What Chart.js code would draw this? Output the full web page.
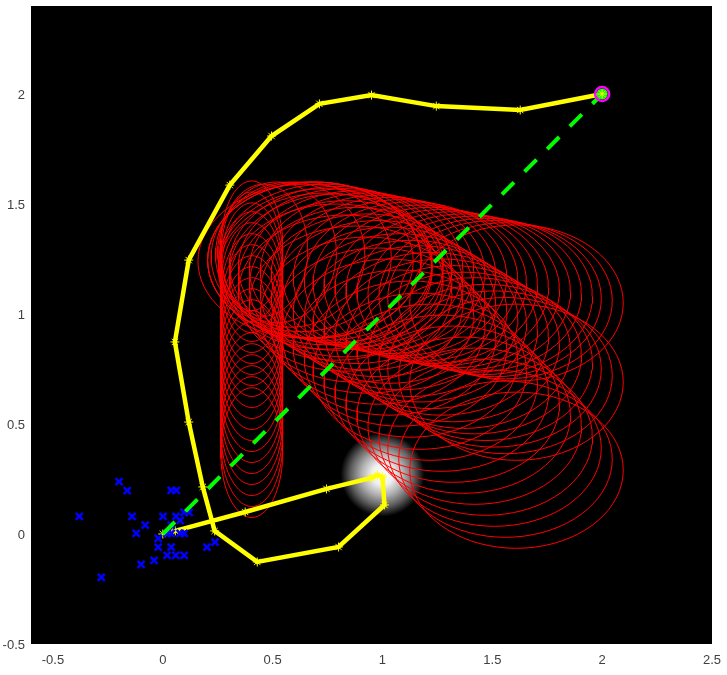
<!DOCTYPE html>
<html>
<head>
<meta charset="utf-8">
<style>
  html, body { margin: 0; padding: 0; background: #fff; }
  #wrap { width: 727px; height: 675px; }
</style>
<script src="https://cdn.jsdelivr.net/npm/chart.js@4"></script>
</head>
<body>
<div id="wrap"><canvas id="chart" width="727" height="675"></canvas></div>
<script>
const xTicks = [-0.5, 0, 0.5, 1, 1.5, 2, 2.5];
const yTicks = [-0.5, 0, 0.5, 1, 1.5, 2];

// yellow path
const pathX = [0, 0.057, 0.375, 0.745, 0.95, 0.977, 1.0, 1.009, 0.8, 0.43, 0.236, 0.182, 0.118, 0.055, 0.118, 0.305, 0.495, 0.713, 0.95, 1.245, 1.627, 2];
const pathY = [0, 0.014, 0.1, 0.205, 0.255, 0.268, 0.259, 0.132, -0.059, -0.127, 0.014, 0.214, 0.509, 0.873, 1.245, 1.586, 1.809, 1.955, 1.995, 1.945, 1.927, 2];

// straight dashed line
const lineX = [0, 2];
const lineY = [0, 2];

// blue crosses
const crossX = [-0.199, -0.162, -0.38, -0.14, -0.08, -0.121, -0.28, -0.099, -0.04, -0.021, -0.021, 0.038, 0.02, 0.059, 0.097, 0.038, 0.062, 0.001, 0.06, 0.079, 0.097, 0.12, 0.038, 0.02, 0.038, 0.079, 0.097, 0.201, 0.238];
const crossY = [0.238, 0.197, 0.08, 0.08, 0.04, 0.003, -0.197, -0.138, -0.12, -0.02, -0.06, -0.06, -0.097, -0.097, -0.097, 0.198, 0.198, 0.08, 0.08, 0.062, 0.098, 0.098, 0.04, 0.003, 0.003, 0.003, 0.003, -0.06, -0.037];

// narrow ellipses, going up
const columnY = [0.37, 0.42, 0.47, 0.52, 0.57, 0.62, 0.67, 0.72, 0.77, 0.82, 0.87, 0.92, 0.97, 1.02, 1.07, 1.12, 1.17, 1.21, 1.26, 1.31];
const COLUMN_X = 0.405, COLUMN_RX = 0.141, COLUMN_RY = 0.295;

// ellipses that widen between the column and the three sweeps
const growX = [0.46, 0.52, 0.58, 0.63, 0.65];
const growY = [1.29, 1.28, 1.27, 1.26, 1.24];
const growRx = [0.2, 0.27, 0.34, 0.41, 0.49];
const growRy = [0.3, 0.32, 0.33, 0.34, 0.35];

// three sweeps, all with the same x positions
const sweepX = [0.69, 0.74, 0.79, 0.83, 0.88, 0.93, 0.98, 1.03, 1.08, 1.13, 1.17, 1.22, 1.27, 1.32, 1.37, 1.42, 1.47, 1.51, 1.56, 1.61];
const sweepUpperY = [1.245, 1.235, 1.225, 1.215, 1.205, 1.195, 1.185, 1.175, 1.165, 1.155, 1.14, 1.13, 1.12, 1.11, 1.1, 1.09, 1.08, 1.07, 1.06, 1.05];
const sweepMiddleY = [1.245, 1.215, 1.19, 1.16, 1.13, 1.1, 1.07, 1.04, 1.01, 0.98, 0.955, 0.925, 0.895, 0.865, 0.835, 0.81, 0.78, 0.75, 0.72, 0.69];
const sweepLowerY = [1.245, 1.195, 1.145, 1.095, 1.045, 0.995, 0.945, 0.895, 0.845, 0.795, 0.74, 0.69, 0.64, 0.59, 0.54, 0.49, 0.44, 0.39, 0.34, 0.29];
const SWEEP_RX = 0.486, SWEEP_RY = 0.355;

const GLOW_X = 1.0, GLOW_Y = 0.27, GLOW_RADIUS = 42;

function toPoints(xs, ys) {
  return xs.map((x, i) => ({ x, y: ys[i] }));
}

// outline of one ellipse as line points
function outline(cx, cy, rx, ry) {
  const pts = [];
  for (let i = 0; i <= 72; i++) {
    const a = (i / 72) * Math.PI * 2;
    pts.push({ x: cx + rx * Math.cos(a), y: cy + ry * Math.sin(a) });
  }
  return pts;
}

function ellipseDataset(cx, cy, rx, ry) {
  return {
    type: 'scatter',
    data: outline(cx, cy, rx, ry),
    showLine: true,
    borderColor: '#ff0000',
    borderWidth: 1,
    pointRadius: 0,
    tension: 0,
  };
}

const ellipses = [];
columnY.forEach(y => ellipses.push(ellipseDataset(COLUMN_X, y, COLUMN_RX, COLUMN_RY)));
growX.forEach((x, i) => ellipses.push(ellipseDataset(x, growY[i], growRx[i], growRy[i])));
[sweepUpperY, sweepMiddleY, sweepLowerY].forEach(ys => {
  sweepX.forEach((x, i) => ellipses.push(ellipseDataset(x, ys[i], SWEEP_RX, SWEEP_RY)));
});

const endPoint = [{ x: pathX[pathX.length - 1], y: pathY[pathY.length - 1] }];

// datasets are painted last to first, so the list runs top layer -> bottom layer
const datasets = [
  { type: 'scatter', data: endPoint, pointStyle: 'circle', pointRadius: 7, pointBorderWidth: 2.5, pointBorderColor: '#ff00ff', pointBackgroundColor: 'rgba(0,0,0,0)' },
  { type: 'scatter', data: endPoint, pointStyle: 'star', pointRadius: 4.5, pointBorderWidth: 1, pointBorderColor: '#ffff00' },
  { type: 'scatter', data: endPoint, pointStyle: 'circle', pointRadius: 5.5, pointBorderWidth: 0, pointBackgroundColor: '#00ff00' },
  { type: 'scatter', data: toPoints(lineX, lineY), showLine: true, borderColor: '#00ff00', borderWidth: 4, borderDash: [17, 15], pointRadius: 0 },
  { type: 'scatter', data: toPoints(crossX, crossY), pointStyle: 'crossRot', pointRadius: 5, pointBorderWidth: 2.5, pointBorderColor: '#0000ff' },
  { type: 'scatter', data: toPoints(pathX, pathY), showLine: true, borderColor: '#ffff00', borderWidth: 4.5, pointStyle: 'star', pointRadius: 4.5, pointBorderWidth: 1, pointBorderColor: '#ffff00' },
  ...ellipses,
  {
    type: 'scatter',
    data: [{ x: GLOW_X, y: GLOW_Y }],
    pointRadius: GLOW_RADIUS,
    pointBorderWidth: 0,
    pointBackgroundColor: (ctx) => {
      const px = ctx.chart.scales.x.getPixelForValue(GLOW_X);
      const py = ctx.chart.scales.y.getPixelForValue(GLOW_Y);
      if (!isFinite(px) || !isFinite(py)) return '#000000'; // scales not laid out yet
      const g = ctx.chart.ctx.createRadialGradient(px, py, 0, px, py, GLOW_RADIUS);
      g.addColorStop(0, '#ffffff');
      g.addColorStop(0.25, '#f0f0f0');
      g.addColorStop(0.5, '#b0b0b0');
      g.addColorStop(0.75, '#606060');
      g.addColorStop(1, '#000000');
      return g;
    },
  },
];

// black plot area
const plotBackground = {
  id: 'plotBackground',
  beforeDraw(chart) {
    const a = chart.chartArea;
    chart.ctx.fillStyle = '#000';
    chart.ctx.fillRect(a.left, a.top, a.right - a.left, a.bottom - a.top);
  },
};

const tickFont = { family: '"Liberation Sans", Arial, sans-serif', size: 13 };

function noScalePadding(s) {
  s.paddingTop = 0;
  s.paddingBottom = 0;
  s.paddingLeft = 0;
  s.paddingRight = 0;
}

new Chart(document.getElementById('chart'), {
  type: 'scatter',
  data: { datasets },
  plugins: [plotBackground],
  options: {
    responsive: false,
    animation: false,
    layout: { autoPadding: false, padding: { top: 6, right: 15, left: 0, bottom: 0 } },
    plugins: { legend: { display: false }, tooltip: { enabled: false } },
    scales: {
      x: {
        type: 'linear',
        min: -0.6,
        max: 2.5,
        grid: { display: false, drawTicks: false },
        border: { display: false },
        afterBuildTicks: (s) => { s.ticks = xTicks.map(value => ({ value })); },
        afterFit: (s) => { s.height = 31; noScalePadding(s); },
        ticks: { color: '#404040', font: tickFont, padding: 9, maxRotation: 0, autoSkip: false, callback: v => String(v) },
      },
      y: {
        type: 'linear',
        min: -0.5,
        max: 2.4,
        grid: { display: false, drawTicks: false },
        border: { display: false },
        afterBuildTicks: (s) => { s.ticks = yTicks.map(value => ({ value })); },
        afterFit: (s) => { s.width = 31; noScalePadding(s); },
        ticks: { color: '#404040', font: tickFont, padding: 6, labelOffset: 1, autoSkip: false, callback: v => String(v) },
      },
    },
  },
});
</script>
</body>
</html>
